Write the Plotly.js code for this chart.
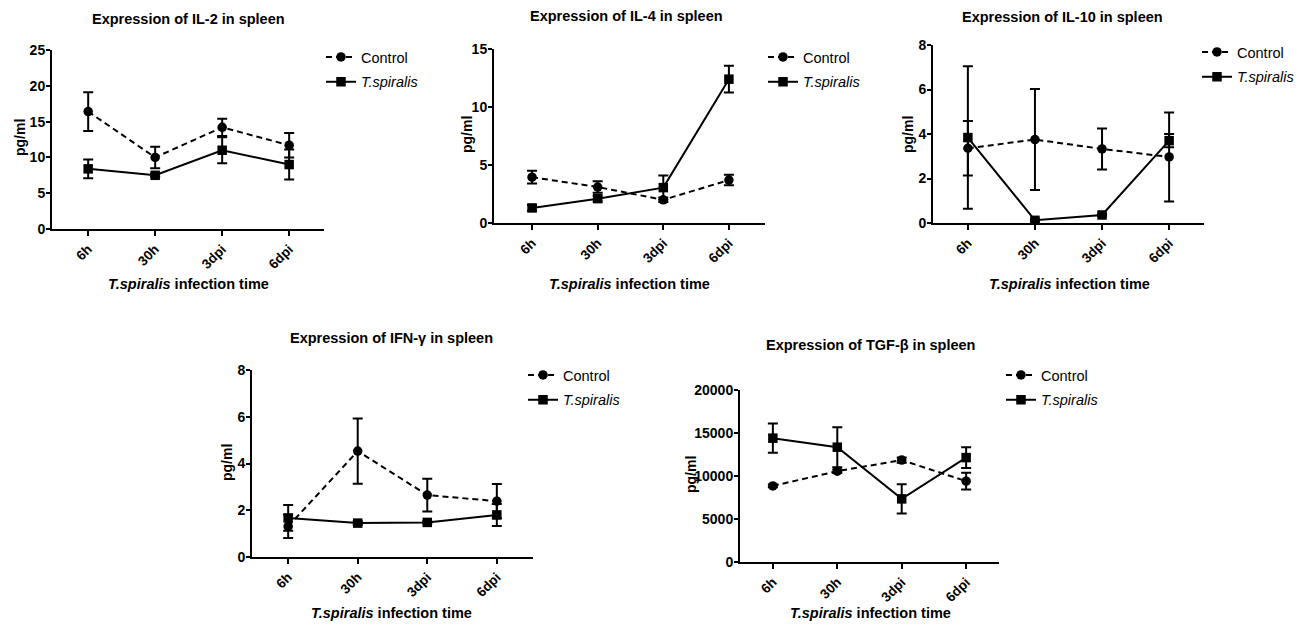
<!DOCTYPE html>
<html>
<head>
<meta charset="utf-8">
<script src="https://cdn.plot.ly/plotly-3.0.1.min.js"></script>
<style>html,body{margin:0;padding:0;background:#fff;}#chart{width:1309px;height:626px;}</style>
</head>
<body>
<div id="chart"></div>
<script>
// ---- data ----
const categories = ['6h', '30h', '3dpi', '6dpi'];
const seriesNames = ['Control', '<i>T.spiralis</i>'];

const il2Control = [16.4, 10.0, 14.2, 11.7];
const il2ControlErr = [2.7, 1.5, 1.2, 1.7];
const il2Tsp = [8.4, 7.5, 11.0, 9.0];
const il2TspErr = [1.3, 0.2, 1.8, 2.1];

const il4Control = [3.95, 3.1, 2.0, 3.7];
const il4ControlErr = [0.55, 0.5, 0.2, 0.45];
const il4Tsp = [1.3, 2.1, 3.05, 12.4];
const il4TspErr = [0.25, 0.25, 1.05, 1.15];

const il10Control = [3.36, 3.75, 3.33, 2.97];
const il10ControlErr = [1.22, 2.27, 0.92, 2.0];
const il10Tsp = [3.84, 0.12, 0.36, 3.7];
const il10TspErr = [3.2, 0.05, 0.05, 0.3];

const ifnControl = [1.31, 4.53, 2.65, 2.39];
const ifnControlErr = [0.5, 1.4, 0.7, 0.73];
const ifnTsp = [1.67, 1.45, 1.48, 1.8];
const ifnTspErr = [0.55, 0.08, 0.05, 0.47];

const tgfControl = [8850, 10560, 11850, 9400];
const tgfControlErr = [150, 200, 300, 970];
const tgfTsp = [14400, 13350, 7340, 12140];
const tgfTspErr = [1700, 2330, 1700, 1200];

const titles = ['Expression of IL-2 in spleen', 'Expression of IL-4 in spleen',
  'Expression of IL-10 in spleen', 'Expression of IFN-γ in spleen', 'Expression of TGF-β in spleen'];
const yTickVals = [[0, 5, 10, 15, 20, 25], [0, 5, 10, 15], [0, 2, 4, 6, 8], [0, 2, 4, 6, 8], [0, 5000, 10000, 15000, 20000]];
const yRanges = [[0, 25], [0, 15], [0, 8], [0, 8], [0, 20000]];

// ---- layout helpers ----
const W = 1309, H = 626;
const px = v => v / W;
const py = v => 1 - v / H;
const FONT = 'Arial, "Liberation Sans", sans-serif';

const panels = [
  {ctl: il2Control, ctlE: il2ControlErr, ts: il2Tsp, tsE: il2TspErr,
   xd: [52, 324], yd: [50, 229], xr: [-0.54, 3.52], title: [188, 19], xt: [188, 284], yt: [20, 138], leg: [321, 41]},
  {ctl: il4Control, ctlE: il4ControlErr, ts: il4Tsp, tsE: il4TspErr,
   xd: [494, 765], yd: [49, 223], xr: [-0.58, 3.55], title: [626, 16], xt: [629, 284], yt: [467, 135], leg: [763, 41]},
  {ctl: il10Control, ctlE: il10ControlErr, ts: il10Tsp, tsE: il10TspErr,
   xd: [933, 1204], yd: [45, 223], xr: [-0.52, 3.52], title: [1062, 17], xt: [1069, 284], yt: [908, 135], leg: [1197, 36]},
  {ctl: ifnControl, ctlE: ifnControlErr, ts: ifnTsp, tsE: ifnTspErr,
   xd: [252, 533], yd: [370, 557], xr: [-0.52, 3.52], title: [392, 338], xt: [392, 613], yt: [227, 463], leg: [523, 359]},
  {ctl: tgfControl, ctlE: tgfControlErr, ts: tgfTsp, tsE: tgfTspErr,
   xd: [740, 999], yd: [390, 562], xr: [-0.51, 3.51], title: [870, 345], xt: [870, 613], yt: [691, 475], leg: [1001, 359]}
];

const traces = [];
const layout = {
  width: W, height: H,
  margin: {l: 0, r: 0, t: 0, b: 0},
  paper_bgcolor: '#fff', plot_bgcolor: '#fff',
  font: {family: FONT, color: '#000', size: 12},
  showlegend: true,
  annotations: []
};

panels.forEach((p, i) => {
  const n = i + 1;
  const xa = n === 1 ? 'x' : 'x' + n;
  const ya = n === 1 ? 'y' : 'y' + n;
  const lg = n === 1 ? 'legend' : 'legend' + n;
  const errStyle = arr => ({type: 'data', array: arr, visible: true, color: '#000', thickness: 2, width: 5});
  traces.push({
    type: 'scatter', mode: 'lines+markers', name: seriesNames[0],
    x: categories, y: p.ctl, error_y: errStyle(p.ctlE),
    xaxis: xa, yaxis: ya, legend: lg, legendgroup: 'c' + n,
    line: {color: '#000', width: 2, dash: '6px,4px'},
    marker: {symbol: 'circle', size: 9.5, color: '#000'}
  });
  traces.push({
    type: 'scatter', mode: 'lines+markers', name: seriesNames[1],
    x: categories, y: p.ts, error_y: errStyle(p.tsE),
    xaxis: xa, yaxis: ya, legend: lg, legendgroup: 't' + n,
    line: {color: '#000', width: 2},
    marker: {symbol: 'square', size: 9.5, color: '#000'}
  });
  layout['xaxis' + (n === 1 ? '' : n)] = {
    domain: [px(p.xd[0]), px(p.xd[1])], anchor: ya,
    type: 'category', range: p.xr, fixedrange: true,
    showline: true, linecolor: '#000', linewidth: 2, mirror: false,
    showgrid: false, zeroline: false,
    ticks: 'outside', ticklen: 5, tickwidth: 2, tickcolor: '#000',
    tickangle: -45, tickfont: {family: FONT, size: 13.5, weight: 'bold', color: '#000'}
  };
  layout['yaxis' + (n === 1 ? '' : n)] = {
    domain: [py(p.yd[1]), py(p.yd[0])], anchor: xa,
    range: yRanges[i], fixedrange: true,
    tickmode: 'array', tickvals: yTickVals[i], tickformat: 'd',
    showline: true, linecolor: '#000', linewidth: 2,
    showgrid: false, zeroline: false,
    ticks: 'outside', ticklen: 4, tickwidth: 2, tickcolor: '#000', ticklabelstandoff: -2,
    tickfont: {family: FONT, size: 14, weight: 'bold', color: '#000'}
  };
  layout[lg] = {
    x: px(p.leg[0]), y: py(p.leg[1]), xanchor: 'left', yanchor: 'top',
    bgcolor: 'rgba(0,0,0,0)', borderwidth: 0,
    font: {family: FONT, size: 14.5, color: '#000'},
    traceorder: 'grouped', tracegroupgap: 3, itemwidth: 30
  };
  layout.annotations.push(
    {text: '<b>' + titles[i] + '</b>', x: px(p.title[0]), y: py(p.title[1]), xref: 'paper', yref: 'paper',
     xanchor: 'center', yanchor: 'middle', showarrow: false, font: {family: FONT, size: 14.5, color: '#000'}},
    {text: '<b><i>T.spiralis</i> infection time</b>', x: px(p.xt[0]), y: py(p.xt[1]), xref: 'paper', yref: 'paper',
     xanchor: 'center', yanchor: 'middle', showarrow: false, font: {family: FONT, size: 14.5, color: '#000'}},
    {text: '<b>pg/ml</b>', x: px(p.yt[0]), y: py(p.yt[1]), xref: 'paper', yref: 'paper', textangle: -90,
     xanchor: 'center', yanchor: 'middle', showarrow: false, font: {family: FONT, size: 14, color: '#000'}}
  );
});

Plotly.newPlot('chart', traces, layout, {displayModeBar: false, staticPlot: true});
</script>
</body>
</html>
